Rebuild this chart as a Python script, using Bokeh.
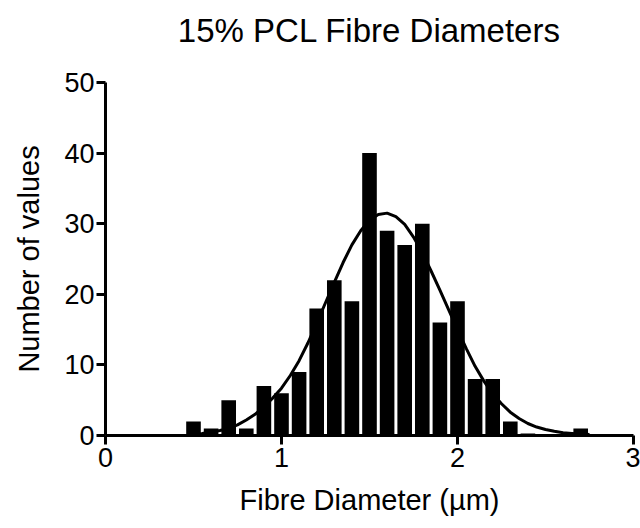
from bokeh.plotting import figure
from bokeh.models import Range1d, FixedTicker, ColumnDataSource, LinearAxis
from bokeh.embed import file_html
from bokeh.resources import INLINE

# Histogram bins (bin centres, µm) and counts
bin_centers = [0.5, 0.6, 0.7, 0.8, 0.9, 1.0, 1.1, 1.2, 1.3, 1.4, 1.5, 1.6,
               1.7, 1.8, 1.9, 2.0, 2.1, 2.2, 2.3, 2.4, 2.5, 2.6, 2.7]
counts = [2, 1, 5, 1, 7, 6, 9, 18, 22, 19, 40, 29,
          27, 30, 16, 19, 8, 8, 2, 0.3, 0, 0, 1]

# Gaussian fit curve
fit_x = [0.50, 0.55, 0.60, 0.65, 0.70, 0.75, 0.80, 0.85, 0.90, 0.95,
         1.00, 1.05, 1.10, 1.15, 1.20, 1.25, 1.30, 1.35, 1.40, 1.45,
         1.50, 1.55, 1.60, 1.65, 1.70, 1.75, 1.80, 1.85, 1.90, 1.95,
         2.00, 2.05, 2.10, 2.15, 2.20, 2.25, 2.30, 2.35, 2.40, 2.45,
         2.50, 2.55, 2.60, 2.65, 2.70, 2.75]
fit_y = [0.2, 0.3, 0.5, 0.7, 1.0, 1.5, 2.2, 3.0, 4.1, 5.3,
         6.7, 8.5, 10.6, 13.1, 15.9, 18.8, 21.7, 24.5, 27.0, 29.0,
         30.5, 31.3, 31.5, 31.0, 29.9, 28.1, 25.9, 23.3, 20.6, 17.8,
         15.0, 12.3, 9.8, 7.7, 5.9, 4.5, 3.3, 2.4, 1.7, 1.2,
         0.85, 0.6, 0.4, 0.3, 0.2, 0.15]

x_ticks = [0, 1, 2, 3]
y_ticks = [0, 10, 20, 30, 40, 50]
title_text = "15% PCL Fibre Diameters"

FONT = "Liberation Sans"

p = figure(width=640, height=528, output_backend="svg", toolbar_location=None,
           x_range=Range1d(0, 3), y_range=Range1d(0, 50),
           min_border_left=105, min_border_right=7,
           min_border_top=82, min_border_bottom=93)

src = ColumnDataSource(dict(x=bin_centers, top=counts))
p.vbar(x="x", top="top", bottom=0, width=0.083, source=src,
       fill_color="black", line_color=None)

p.line(fit_x, fit_y, line_color="black", line_width=3)

p.xgrid.visible = False
p.ygrid.visible = False
p.outline_line_color = None

xa = p.below[0]
ya = p.left[0]

for ax in (xa, ya):
    ax.axis_line_width = 3
    ax.axis_line_color = "black"
    ax.major_tick_line_width = 3
    ax.major_tick_line_color = "black"
    ax.major_tick_out = 9
    ax.major_tick_in = 0
    ax.minor_tick_line_color = None
    ax.major_label_text_font = FONT
    ax.major_label_text_font_size = "27px"
    ax.major_label_text_color = "black"
    ax.axis_label_text_font = FONT
    ax.axis_label_text_font_size = "29px"
    ax.axis_label_text_font_style = "normal"
    ax.axis_label_text_color = "black"

xa.ticker = FixedTicker(ticks=x_ticks)
ya.ticker = FixedTicker(ticks=y_ticks)
xa.axis_label = "Fibre Diameter (µm)"
ya.axis_label = "Number of values"
xa.major_label_standoff = 3
ya.major_label_standoff = 2
xa.axis_label_standoff = 14
ya.axis_label_standoff = 16

# Title drawn as the label of a bare axis above the frame
title_axis = LinearAxis(ticker=FixedTicker(ticks=[]), axis_label=title_text,
                        axis_line_color=None, major_tick_line_color=None,
                        minor_tick_line_color=None, major_tick_out=0,
                        major_label_text_font_size="0px",
                        axis_label_text_font=FONT,
                        axis_label_text_font_size="33px",
                        axis_label_text_font_style="normal",
                        axis_label_text_color="black",
                        axis_label_standoff=34)
p.add_layout(title_axis, "above")

p.background_fill_color = "white"
p.border_fill_color = "white"

open("out.html", "w").write(file_html(p, INLINE))
